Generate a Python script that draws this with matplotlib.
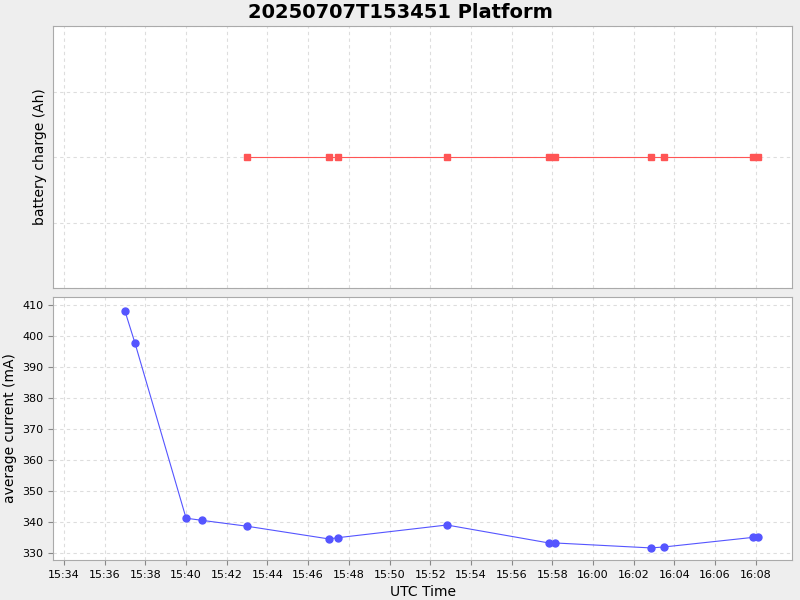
import matplotlib
matplotlib.use("Agg")
import matplotlib.pyplot as plt
import matplotlib.dates as mdates
import datetime as dt

base = dt.datetime(2025, 7, 7, 15, 34)
cur_minutes = [3.0, 3.49, 6.0, 6.78, 9.0, 13.02, 13.46, 18.82, 23.83, 24.13, 28.84, 29.48, 33.86, 34.1]
cur_values = [408, 397.7, 341.2, 340.5, 338.6, 334.5, 334.9, 339.0, 333.2, 333.2, 331.6, 331.9, 335.0, 335.1]
bat_minutes = [9.0, 13.02, 13.46, 18.82, 23.83, 24.13, 28.84, 29.48, 33.86, 34.1]
bat_values = [0, 0, 0, 0, 0, 0, 0, 0, 0, 0]

cur_t = [base + dt.timedelta(minutes=m) for m in cur_minutes]
bat_t = [base + dt.timedelta(minutes=m) for m in bat_minutes]

fig = plt.figure(figsize=(8, 6), dpi=100, facecolor="#eeeeee")
ax1 = fig.add_axes([53/800, 1-288/600, 739/800, 262/600])
ax2 = fig.add_axes([53/800, 1-560/600, 739/800, 263/600])
xmin = base + dt.timedelta(minutes=-0.54)
xmax = base + dt.timedelta(minutes=35.78)

for ax in (ax1, ax2):
    ax.set_facecolor("white")
    ax.grid(True, color="#dddddd", linestyle=(0, (3, 3)), linewidth=0.8)
    ax.set_axisbelow(True)
    for s in ax.spines.values():
        s.set_color("#aaaaaa")
    ax.set_xlim(xmin, xmax)
    ax.xaxis.set_major_locator(mdates.MinuteLocator(byminute=range(0, 60, 2)))
    ax.xaxis.set_major_formatter(mdates.DateFormatter("%H:%M"))
    ax.tick_params(labelsize=8, color="#888888")

ax1.plot(bat_t, bat_values, color="#ff5555", linewidth=0.8, marker="s", markersize=5)
ax1.set_ylim(-1, 1)
ax1.set_yticks([-1, -0.5, 0, 0.5, 1])
ax1.tick_params(axis="y", left=False, labelleft=False)
ax1.tick_params(axis="x", bottom=False, labelbottom=False)
ax1.set_ylabel("battery charge (Ah)", fontsize=10)

ax2.plot(cur_t, cur_values, color="#5555ff", linewidth=0.8, marker="o", markersize=5)
ax2.set_ylim(327.7, 412.6)
ax2.set_yticks(range(330, 411, 10))
ax2.set_ylabel("average current (mA)", fontsize=10)
ax2.set_xlabel("UTC Time", fontsize=10)

fig.suptitle("20250707T153451 Platform", fontsize=14, fontweight="bold", y=0.995)
fig.savefig("out.png", facecolor=fig.get_facecolor())
